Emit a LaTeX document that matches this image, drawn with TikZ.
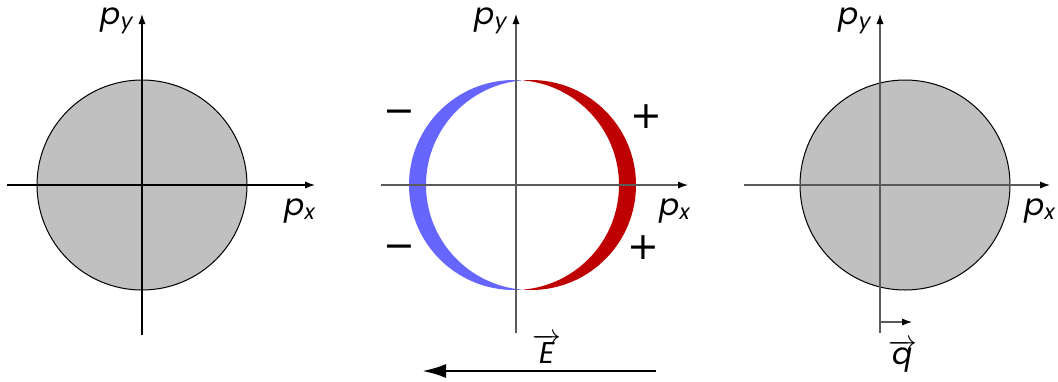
\documentclass[tikz,border=0pt]{standalone}
\usepackage{fontspec}
\setmainfont{Poppins}
\newfontfamily\signfont{DejaVu Sans}
\usetikzlibrary{arrows.meta}
\definecolor{fermigray}{RGB}{192,192,192}
\definecolor{minusblue}{RGB}{102,102,255}
\definecolor{plusred}{RGB}{190,0,0}
\definecolor{axisgray}{RGB}{90,90,90}

\begin{document}
\begin{tikzpicture}[x=0.5pt, y=-0.5pt, every node/.style={font=\fontsize{15}{18}\selectfont\itshape, inner sep=1pt},
	>={Latex[length=5pt,width=3.6pt,color=black]}, axis/.style={->, line width=0.6pt},
	sign/.style={font=\signfont\fontsize{19}{22}\selectfont\itshape}]
	\useasboundingbox (0,0) rectangle (1058,381);
	% equilibrium
	\begin{scope}[shift={(142,185)}]
		\fill[fermigray, draw=black, line width=0.5pt] (0,0) circle (105);
		\coordinate (xa1) at (-135,0); \coordinate (xb1) at (173,0);
		\coordinate (ya1) at (0,150); \coordinate (yb1) at (0,-171);
		\draw[axis] (xa1) -- (xb1);
		\draw[axis] (ya1) -- (yb1);
		\node (px1) at (158,26) {p\textsubscript{x}};
		\node[anchor=east] (py1) at (-6,-164) {p\textsubscript{y}};
	\end{scope}
	% field applied
	\begin{scope}[shift={(516,185)}]
		\begin{scope}
			\clip (-200,-200) rectangle (6.5,200);
			\fill[minusblue, even odd rule] (-2,0) circle (105) (15,0) circle (105);
		\end{scope}
		\begin{scope}
			\clip (6.5,-200) rectangle (200,200);
			\fill[plusred, even odd rule] (-2,0) circle (105) (15,0) circle (105);
		\end{scope}
		\coordinate (xa2) at (-135,0); \coordinate (xb2) at (172,0);
		\coordinate (ya2) at (0,148); \coordinate (yb2) at (0,-171);
		\draw[axis, axisgray] (xa2) -- (xb2);
		\draw[axis, axisgray] (ya2) -- (yb2);
		\node (px2) at (159,26) {p\textsubscript{x}};
		\node[anchor=east] (py2) at (-6,-164) {p\textsubscript{y}};
		\node[sign] (m1) at (-117,-68) {−};
		\node[sign] (m2) at (-117,67) {−};
		\node[sign] (p1) at (130,-68) {+};
		\node[sign] (p2) at (127,63) {+};
		\node (E) at (31,164) {$\overrightarrow{\mbox{\itshape E}}$};
		\coordinate (Ea) at (140,186); \coordinate (Eb) at (-94,186);
		\draw[-{Latex[length=12pt,width=7pt]}, line width=1.4pt] (Ea) -- (Eb);
	\end{scope}
	% displaced sphere
	\begin{scope}[shift={(880,185)}]
		\fill[fermigray, draw=black, line width=0.5pt] (25,0) circle (105);
		\coordinate (xa3) at (-136,0); \coordinate (xb3) at (170,0);
		\coordinate (ya3) at (0,148); \coordinate (yb3) at (0,-171);
		\draw[axis, axisgray] (xa3) -- (xb3);
		\draw[axis, axisgray] (ya3) -- (yb3);
		\node (px3) at (160,26) {p\textsubscript{x}};
		\node[anchor=east] (py3) at (-6,-164) {p\textsubscript{y}};
		\coordinate (qa) at (0,137); \coordinate (qb) at (32,137);
		\draw[axis, axisgray] (qa) -- (qb);
		\node (q) at (23,171) {$\overrightarrow{\mbox{\itshape q}}$};
	\end{scope}
\end{tikzpicture}
\end{document}
